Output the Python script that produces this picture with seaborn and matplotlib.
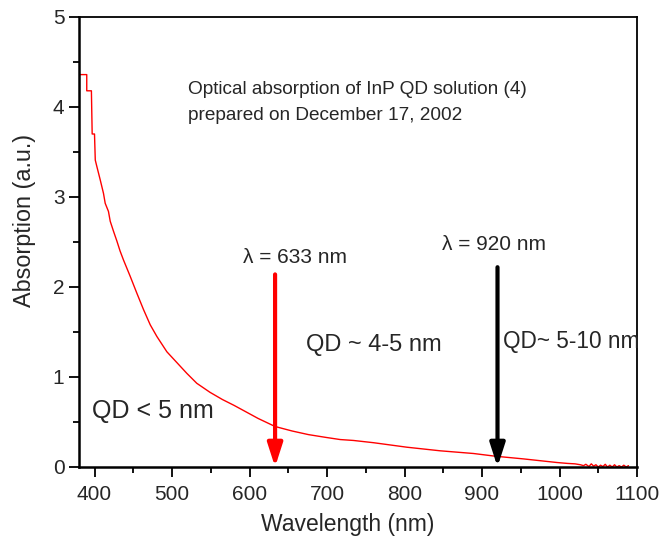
import numpy as np
import pandas as pd
import matplotlib
matplotlib.use("Agg")
import matplotlib.pyplot as plt
import seaborn as sns

# Absorption spectrum of the InP QD solution
wavelength = [381, 390, 390, 396, 397, 400, 401, 403, 407.4, 411.6, 413.8, 418,
              420.3, 424.5, 428.9, 433, 437.4, 446, 454.7, 463.2, 471.9, 480.5,
              493.4, 506.3, 519.2, 532, 549, 565, 580, 595, 611, 633, 655, 676,
              697.7, 717, 734, 760, 803, 846, 889, 917, 953.5, 975, 996.6, 1010,
              1020, 1027, 1031, 1034, 1038, 1041, 1044, 1047, 1050, 1053, 1056,
              1059, 1062, 1065, 1068, 1071, 1074, 1077, 1080, 1083, 1086, 1089]
absorption = [4.36, 4.36, 4.18, 4.18, 3.70, 3.70, 3.41, 3.34, 3.19, 3.04, 2.93, 2.84,
              2.73, 2.62, 2.51, 2.40, 2.30, 2.12, 1.93, 1.75, 1.58, 1.45,
              1.28, 1.16, 1.04, 0.93, 0.83, 0.75, 0.685, 0.615, 0.54, 0.45, 0.40, 0.36,
              0.33, 0.305, 0.295, 0.27, 0.22, 0.18, 0.15, 0.12, 0.09, 0.07, 0.05, 0.04,
              0.035, 0.025, 0.015, 0.03, 0.005, 0.035, 0.01, 0.025, 0.0, 0.02, 0.005,
              0.03, 0.0, 0.02, 0.0, 0.025, 0.0, 0.015, 0.0, 0.02, 0.0, 0.015]

# Laser lines marked on the spectrum
arrow_wl = [633, 920]
arrow_top = [2.14, 2.22]
arrow_colors = ["#ff0000", "#000000"]
arrow_labels = ["\u03bb = 633 nm", "\u03bb = 920 nm"]

sns.set_style("ticks")
plt.rcParams["font.family"] = ["Liberation Sans", "DejaVu Sans"]

df = pd.DataFrame({"Wavelength": wavelength, "Absorption": absorption})

fig = plt.figure(figsize=(6.62, 5.46), dpi=100)
ax = fig.add_axes([79 / 662, 1 - 467 / 546, (637 - 79) / 662, (467 - 17) / 546])

sns.lineplot(data=df, x="Wavelength", y="Absorption", ax=ax, color="#ff0000",
             linewidth=1.0, sort=False, estimator=None)

for wl, top, col in zip(arrow_wl, arrow_top, arrow_colors):
    ax.annotate("", xy=(wl, 0.0), xytext=(wl, top),
                arrowprops=dict(arrowstyle="-|>,head_length=1.4,head_width=0.45",
                                color=col, lw=3, shrinkA=0, shrinkB=0))

ax.text(592, 2.33, arrow_labels[0], fontsize=15, va="center", ha="left")
ax.text(849, 2.47, arrow_labels[1], fontsize=15, va="center", ha="left")
ax.text(673, 1.35, "QD ~ 4-5 nm", fontsize=17, va="center", ha="left")
ax.text(927, 1.39, "QD~ 5-10 nm", fontsize=16.3, va="center", ha="left", clip_on=False)
ax.text(397, 0.62, "QD < 5 nm", fontsize=18, va="center", ha="left")
ax.text(520, 4.2, "Optical absorption of InP QD solution (4)", fontsize=13.7,
        va="center", ha="left")
ax.text(520, 3.91, "prepared on December 17, 2002", fontsize=13.7,
        va="center", ha="left")

ax.set_xlim(380, 1100)
ax.set_ylim(0, 5)
ax.set_xticks(range(400, 1101, 100))
ax.set_xticks(range(400, 1101, 50), minor=True)
ax.set_yticks(range(0, 6))
ax.set_yticks(np.arange(0, 5.01, 0.5), minor=True)
ax.tick_params(axis="both", which="major", direction="out", length=7, width=1.3,
               labelsize=15, color="black")
ax.tick_params(axis="both", which="minor", direction="out", length=4, width=1.3,
               color="black")
ax.tick_params(axis="x", pad=6)
ax.set_xlabel("Wavelength (nm)", fontsize=16.5)
ax.set_ylabel("Absorption (a.u.)", fontsize=16.8)
ax.xaxis.set_label_coords(0.481, -0.102)
ax.yaxis.set_label_coords(-0.077, 0.547)

for side in ["top", "right", "left", "bottom"]:
    ax.spines[side].set_visible(True)
    ax.spines[side].set_color("black")
    ax.spines[side].set_linewidth(1.3)
ax.spines["left"].set_linewidth(1.8)
ax.spines["bottom"].set_linewidth(1.8)

fig.savefig("out.png", dpi=100)
